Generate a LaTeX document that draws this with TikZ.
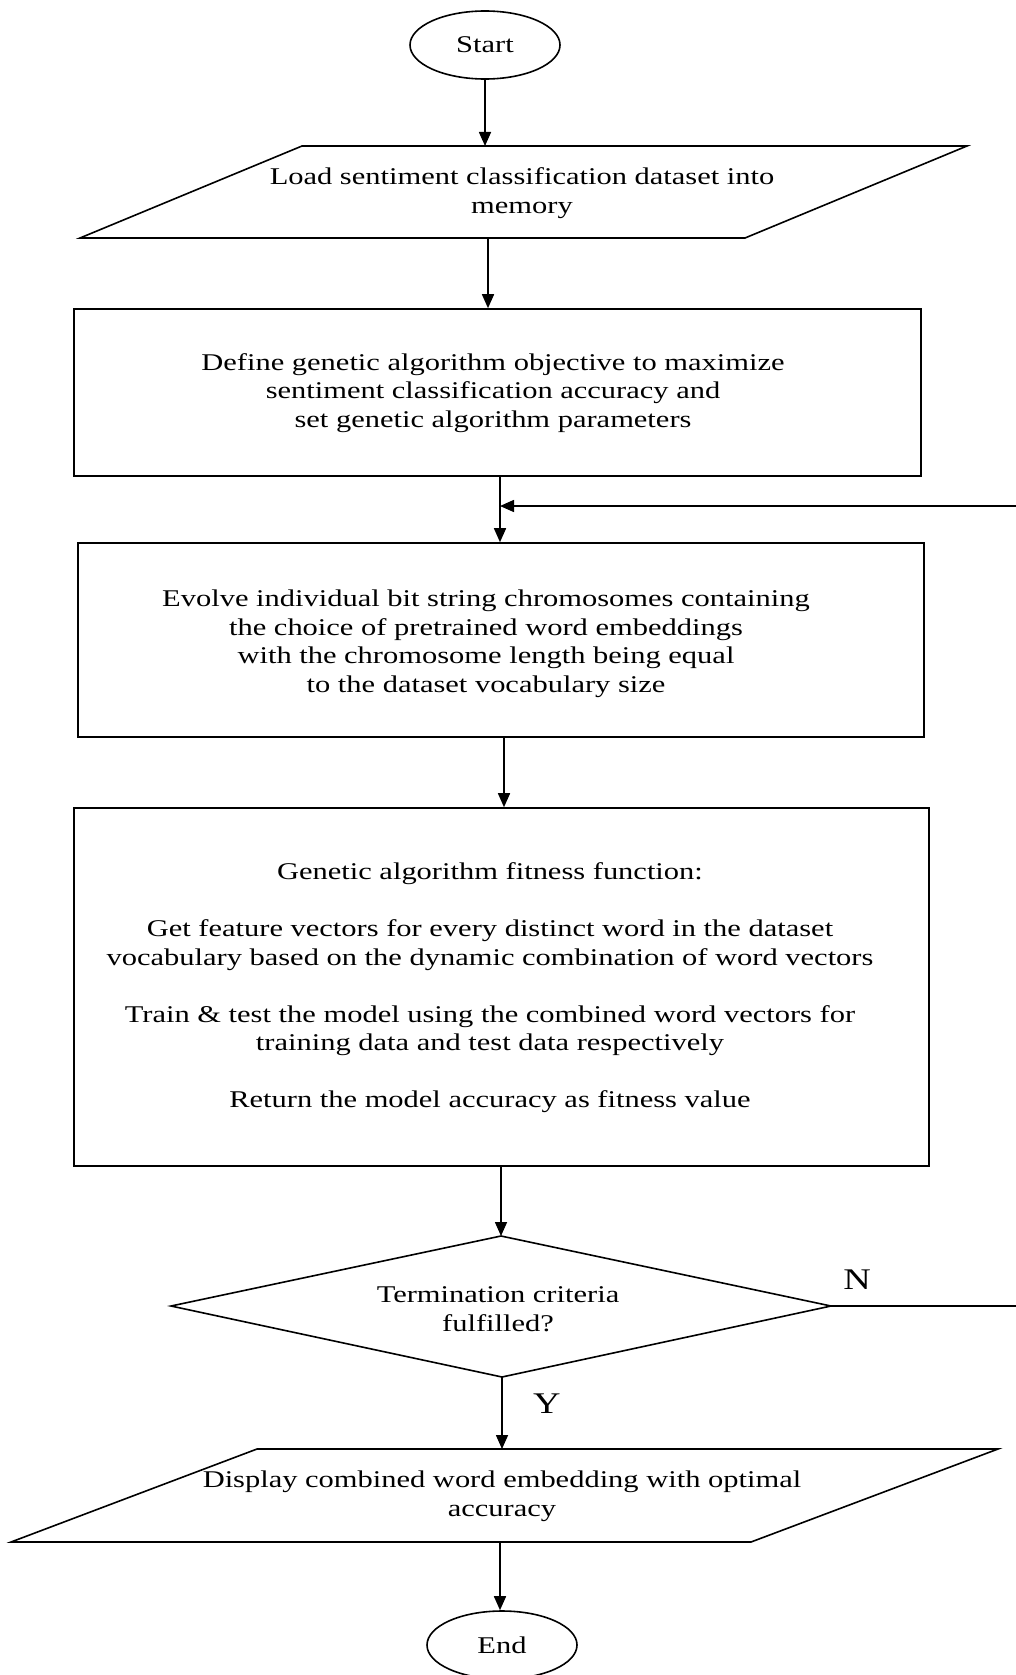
\documentclass[tikz,border=0pt]{standalone}
\usepackage{fontspec}
\setmainfont{Liberation Serif}[FakeStretch=1.27]
\usetikzlibrary{arrows.meta,shapes.geometric}
\tikzset{
  ln/.style={line width=1.6pt},
  arr/.style={ln,-{Triangle[length=14pt,width=12pt]}},
  txt/.style={font=\fontsize{24}{28.5}\selectfont,align=center,inner sep=0pt},
  lbl/.style={font=\fontsize{30}{32}\selectfont,inner sep=0pt},
  terminal/.style={ellipse,draw,ln,minimum width=150pt,minimum height=68pt,inner sep=0pt,font=\fontsize{24}{28.5}\selectfont},
  procbox/.style={draw,ln,inner sep=0pt}
}
\begin{document}
\begin{tikzpicture}[x=1pt,y=-1pt]
\useasboundingbox (0,0) rectangle (1016,1675);
\clip (0,0) rectangle (1016,1675);
% Start
\node[terminal] (start) at (485,45) {Start};
% Load (parallelogram)
\draw[ln] (302,146) -- (967,146) -- (745,238) -- (80,238) -- cycle;
\coordinate (loadT) at (485,146);
\coordinate (loadB) at (488,238);
\node[txt] (load) at (522,193) {Load sentiment classification dataset into\\memory};
% Define
\node[procbox,minimum width=847pt,minimum height=167pt] (define) at (497.5,392.5) {};
\node[txt] (definet) at (493,393) {Define genetic algorithm objective to maximize\\sentiment classification accuracy and\\ set genetic algorithm parameters};
% Evolve
\node[procbox,minimum width=846pt,minimum height=194pt] (evolve) at (501,640) {};
\node[txt] (evolvet) at (486,644) {Evolve individual bit string chromosomes containing\\the choice of pretrained word embeddings\\with the chromosome length being equal\\to the dataset vocabulary size};
% Fitness
\node[procbox,minimum width=855pt,minimum height=358pt] (fit) at (501.5,987) {};
\node[txt] (fitt) at (490,988) {Genetic algorithm fitness function:\\[28.5pt]
Get feature vectors for every distinct word in the dataset\\vocabulary based on the dynamic combination of word vectors\\[28.5pt]
Train \& test the model using the combined word vectors for\\training data and test data respectively\\[28.5pt]
Return the model accuracy as fitness value};
% Decision
\draw[ln] (501,1236) -- (831,1306) -- (502,1377) -- (171,1306) -- cycle;
\coordinate (decT) at (501,1236);
\coordinate (decB) at (502,1377);
\coordinate (decR) at (831,1306);
\node[txt] (dect) at (498,1309) {Termination criteria\\fulfilled?};
% Display
\draw[ln] (257,1449) -- (998,1449) -- (751,1542) -- (11,1542) -- cycle;
\coordinate (dispT) at (502,1449);
\coordinate (dispB) at (500,1542);
\node[txt] (disp) at (502,1496) {Display combined word embedding with optimal\\accuracy};
% End
\node[terminal] (end) at (502,1645) {End};
% connectors
\draw[arr] (start.south) -- (loadT);
\draw[arr] (loadB) -- (define.north -| loadB);
\coordinate (join) at (500,506);
\draw[arr] (define.south -| join) -- (evolve.north -| join);
\coordinate (midB) at (504,737);
\draw[arr] (evolve.south -| midB) -- (fit.north -| midB);
\draw[arr] (fit.south -| decT) -- (decT);
\draw[arr] (decB) -- (dispT);
\draw[arr] (dispB) -- (end.north -| dispB);
\coordinate (loopA) at (1030,1306);
\coordinate (loopB) at (1030,506);
\draw[arr] (decR) -- (loopA) -- (loopB) -- (join);
\node[lbl] (nlab) at (857,1280) {N};
\node[lbl] (ylab) at (547,1404) {Y};
\end{tikzpicture}
\end{document}
